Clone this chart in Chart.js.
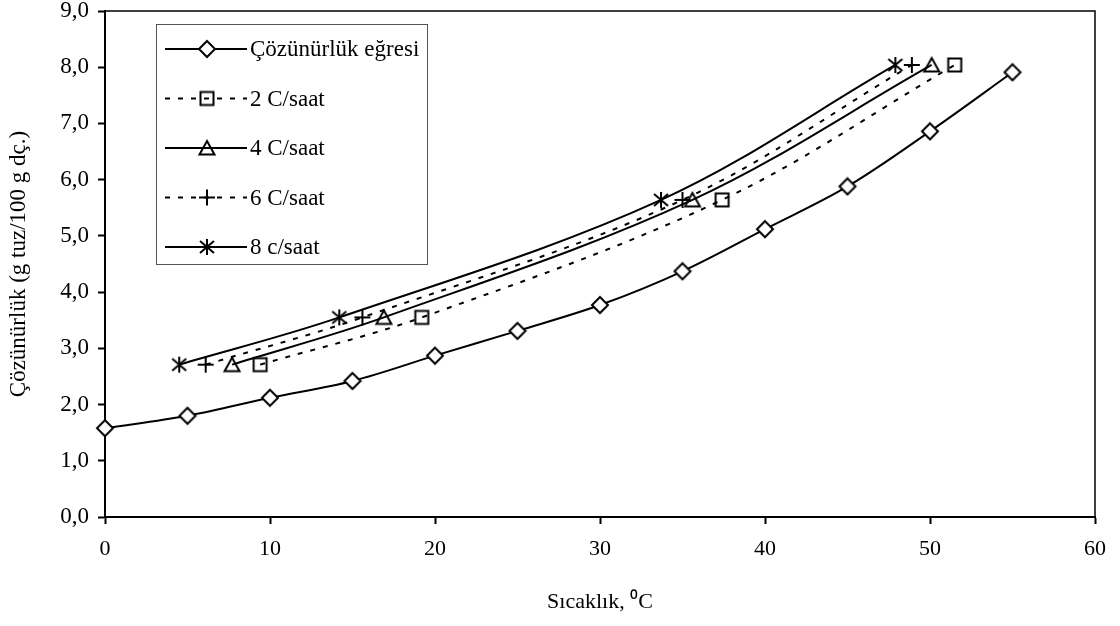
<!DOCTYPE html>
<html>
<head>
<meta charset="utf-8">
<script src="https://cdn.jsdelivr.net/npm/chart.js@4.4.1/dist/chart.umd.min.js"></script>
<style>
  html, body { margin: 0; padding: 0; background: #fff; }
  #wrap { width: 1120px; height: 626px; }
</style>
</head>
<body>
<div id="wrap"><canvas id="grafik" width="1120" height="626"></canvas></div>
<script>
// veriler
var sicaklik = [0, 5, 10, 15, 20, 25, 30, 35, 40, 45, 50, 55];
var cozunurluk = [1.58, 1.80, 2.12, 2.42, 2.87, 3.31, 3.77, 4.37, 5.12, 5.88, 6.86, 7.91];

var seviyeler = [2.71, 3.55, 5.64, 8.04];
var x2saat = [9.4, 19.2, 37.4, 51.5];
var x4saat = [7.7, 16.9, 35.6, 50.1];
var x6saat = [6.1, 15.6, 35.0, 48.9];
var x8saat = [4.5, 14.2, 33.7, 47.9];

var xTicks = [0, 10, 20, 30, 40, 50, 60];
var yTicks = [0, 1, 2, 3, 4, 5, 6, 7, 8, 9];

var FONT = '"Liberation Serif", "Times New Roman", serif';

function noktalar(xs, ys) {
  return xs.map(function(x, i){ return { x: x, y: ys[i] }; });
}

// isaretciler
function isaret(tip) {
  var c = document.createElement('canvas');
  c.width = 20; c.height = 20;
  var g = c.getContext('2d');
  var m = 10;
  g.strokeStyle = '#000';
  g.lineWidth = 2;
  g.beginPath();
  if (tip === 'elmas') {
    g.moveTo(m, m - 8); g.lineTo(m + 8, m); g.lineTo(m, m + 8); g.lineTo(m - 8, m); g.closePath();
    g.fillStyle = '#fff'; g.fill();
  } else if (tip === 'kare') {
    g.rect(m - 6.5, m - 6.5, 13, 13);
  } else if (tip === 'ucgen') {
    g.moveTo(m, m - 7); g.lineTo(m + 7.5, m + 6.5); g.lineTo(m - 7.5, m + 6.5); g.closePath();
  } else if (tip === 'arti') {
    g.moveTo(m - 8, m); g.lineTo(m + 8, m); g.moveTo(m, m - 8); g.lineTo(m, m + 8);
  } else if (tip === 'yildiz') {
    g.moveTo(m, m - 8); g.lineTo(m, m + 8);
    g.moveTo(m - 7, m - 6); g.lineTo(m + 7, m + 6);
    g.moveTo(m + 7, m - 6); g.lineTo(m - 7, m + 6);
  }
  g.stroke();
  return c;
}

var isaretler = {
  elmas: isaret('elmas'), kare: isaret('kare'), ucgen: isaret('ucgen'),
  arti: isaret('arti'), yildiz: isaret('yildiz')
};

function seri(ad, veri, tip, kesikli) {
  return {
    label: ad,
    data: veri,
    showLine: true,
    borderColor: '#000',
    borderWidth: 2,
    borderDash: kesikli ? [5, 8] : [],
    tension: 0.35,
    pointStyle: isaretler[tip],
    pointRadius: 7,
    pointHoverRadius: 7,
    clip: false,
    isaretTipi: tip
  };
}

// cerceve ve gosterge
var cercevePlugin = {
  id: 'cerceve',
  beforeDatasetsDraw: function(chart) {
    var a = chart.chartArea, c = chart.ctx;
    c.save();
    c.strokeStyle = '#000';
    c.lineWidth = 1.5;
    c.beginPath();
    c.moveTo(a.left, a.top); c.lineTo(a.right, a.top); c.lineTo(a.right, a.bottom);
    c.stroke();
    c.restore();
  },
  afterDraw: function(chart) {
    var c = chart.ctx;
    var bx = 156, by = 24, bw = 271, bh = 240;
    c.save();
    c.fillStyle = '#fff';
    c.fillRect(bx, by, bw, bh);
    c.strokeStyle = '#555';
    c.lineWidth = 1;
    c.strokeRect(bx + 0.5, by + 0.5, bw, bh);
    chart.data.datasets.forEach(function(ds, i) {
      var y = 49 + i * 49.5;
      c.strokeStyle = '#000';
      c.lineWidth = 2;
      c.setLineDash(ds.borderDash || []);
      c.beginPath();
      c.moveTo(165, y); c.lineTo(247, y);
      c.stroke();
      c.setLineDash([]);
      var im = isaretler[ds.isaretTipi];
      c.drawImage(im, 207 - im.width / 2, y - im.height / 2);
      c.fillStyle = '#000';
      c.font = '23px ' + FONT;
      c.textBaseline = 'middle';
      c.textAlign = 'left';
      c.fillText(ds.label, 250, y + 1);
    });
    c.restore();
  }
};

new Chart(document.getElementById('grafik'), {
  type: 'scatter',
  data: {
    datasets: [
      seri('Çözünürlük eğresi', noktalar(sicaklik, cozunurluk), 'elmas', false),
      seri('2 C/saat', noktalar(x2saat, seviyeler), 'kare', true),
      seri('4 C/saat', noktalar(x4saat, seviyeler), 'ucgen', false),
      seri('6 C/saat', noktalar(x6saat, seviyeler), 'arti', true),
      seri('8 c/saat', noktalar(x8saat, seviyeler), 'yildiz', false)
    ]
  },
  options: {
    responsive: false,
    animation: false,
    layout: { padding: { top: 11, right: 25, left: 0, bottom: 0 } },
    plugins: {
      legend: { display: false },
      tooltip: { enabled: false }
    },
    scales: {
      x: {
        type: 'linear',
        min: xTicks[0],
        max: xTicks[xTicks.length - 1],
        afterBuildTicks: function(s) { s.ticks = xTicks.map(function(v){ return { value: v }; }); },
        afterFit: function(s) { s.height = 109; s.paddingLeft = 0; s.paddingRight = 0; },
        ticks: {
          color: '#000',
          font: { family: FONT, size: 22 },
          padding: 12,
          maxRotation: 0,
          callback: function(v) { return String(v); }
        },
        grid: { drawOnChartArea: false, drawTicks: true, tickLength: 7, tickWidth: 2, color: '#000' },
        border: { color: '#000', width: 2 },
        title: {
          display: true,
          text: 'Sıcaklık, ⁰C',
          color: '#000',
          font: { family: FONT, size: 22 },
          padding: { top: 0, bottom: 11 }
        }
      },
      y: {
        type: 'linear',
        min: yTicks[0],
        max: yTicks[yTicks.length - 1],
        afterBuildTicks: function(s) { s.ticks = yTicks.map(function(v){ return { value: v }; }); },
        afterFit: function(s) { s.width = 105; s.paddingTop = 0; s.paddingBottom = 0; },
        ticks: {
          color: '#000',
          font: { family: FONT, size: 23 },
          padding: 9,
          callback: function(v) { return v.toFixed(1).replace('.', ','); }
        },
        grid: { drawOnChartArea: false, drawTicks: true, tickLength: 7, tickWidth: 2, color: '#000' },
        border: { color: '#000', width: 2 },
        title: {
          display: true,
          text: 'Çözünürlük (g tuz/100 g dç.)',
          color: '#000',
          font: { family: FONT, size: 23 },
          padding: { top: 5, bottom: 0 }
        }
      }
    }
  },
  plugins: [cercevePlugin]
});
</script>
</body>
</html>
